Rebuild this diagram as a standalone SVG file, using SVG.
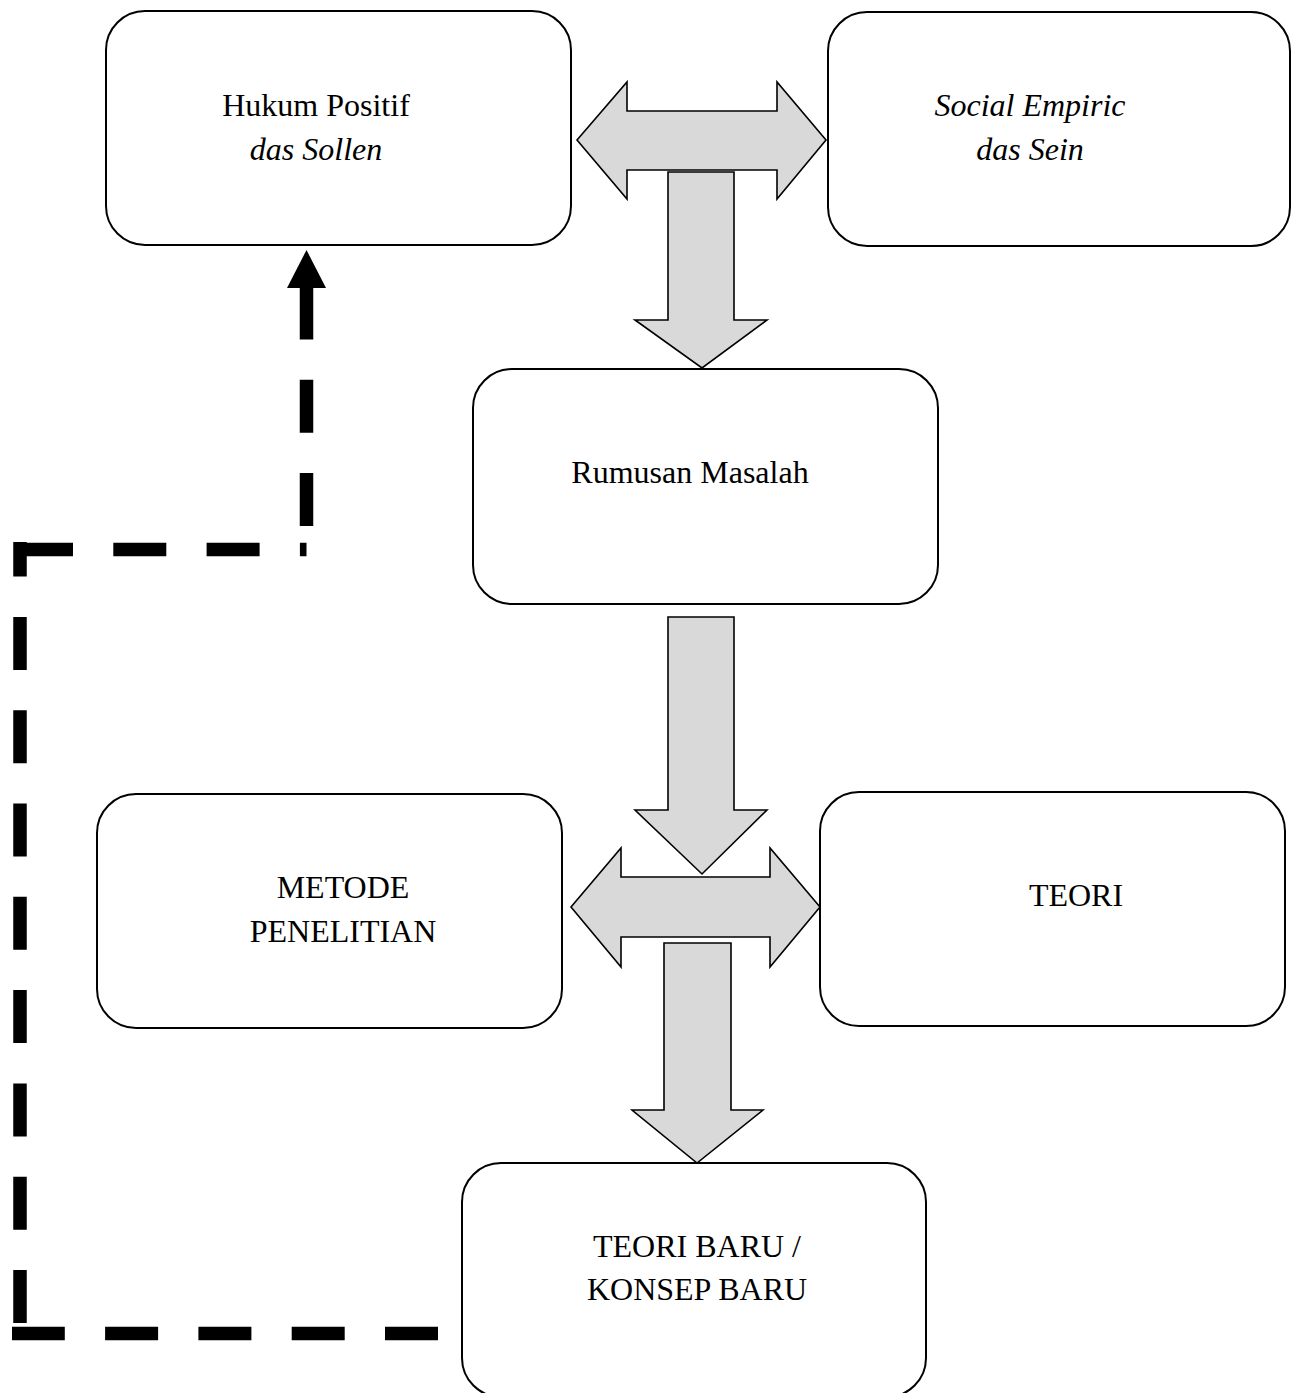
<svg xmlns="http://www.w3.org/2000/svg" width="1292" height="1393" viewBox="0 0 1292 1393">
<style>
.box{fill:#fff;stroke:#000;stroke-width:2}
.t{font-family:"Liberation Serif","Times New Roman",serif;font-size:32px;fill:#000;text-anchor:middle}
.i{font-style:italic}
.blk{fill:#d9d9d9;stroke:#000;stroke-width:1.6;stroke-linejoin:miter}
.dash{fill:none;stroke:#000;stroke-width:13.5;stroke-dasharray:53 40.3;stroke-linecap:butt}
</style>
<rect width="1292" height="1393" fill="#fff"/>
<g id="connectors">
<polygon class="blk" points="577,140 627,82 627,111 777,111 777,82 826,140 777,199 777,170 627,170 627,199"/>
<polygon class="blk" points="668,172 734,172 734,320 767,320 702,368 635,320 668,320"/>
<polygon class="blk" points="668,617 734,617 734,810 767,810 702,874 635,810 668,810"/>
<polygon class="blk" points="571,907 621,848 621,877 770,877 770,848 820,907 770,967 770,937 621,937 621,967"/>
<polygon class="blk" points="664,943 731,943 731,1110 763,1110 697,1163 632,1110 664,1110"/>
<path class="dash" d="M438 1333.5 H12"/>
<path class="dash" d="M20 1323 V542"/>
<path class="dash" d="M20 549.5 H306.5"/>
<path class="dash" d="M306.5 526 V288"/>
<polygon points="306.5,250 326,288 287,288" fill="#000"/>
</g>
<g id="node-hukum">
<rect class="box" x="106" y="11" width="465" height="234" rx="39"/>
<text class="t" x="316" y="116">Hukum Positif</text>
<text class="t i" x="316" y="160">das Sollen</text>
</g>
<g id="node-social">
<rect class="box" x="828" y="12" width="462" height="234" rx="39"/>
<text class="t i" x="1030" y="116">Social Empiric</text>
<text class="t i" x="1030" y="160">das Sein</text>
</g>
<g id="node-rumusan">
<rect class="box" x="473" y="369" width="465" height="235" rx="39"/>
<text class="t" x="690" y="483">Rumusan Masalah</text>
</g>
<g id="node-metode">
<rect class="box" x="97" y="794" width="465" height="234" rx="39"/>
<text class="t" x="343" y="898">METODE</text>
<text class="t" x="343" y="942">PENELITIAN</text>
</g>
<g id="node-teori">
<rect class="box" x="820" y="792" width="465" height="234" rx="39"/>
<text class="t" x="1076" y="906">TEORI</text>
</g>
<g id="node-teori-baru">
<rect class="box" x="462" y="1163" width="464" height="234" rx="39"/>
<text class="t" x="697" y="1257">TEORI BARU /</text>
<text class="t" x="697" y="1300">KONSEP BARU</text>
</g>
</svg>
